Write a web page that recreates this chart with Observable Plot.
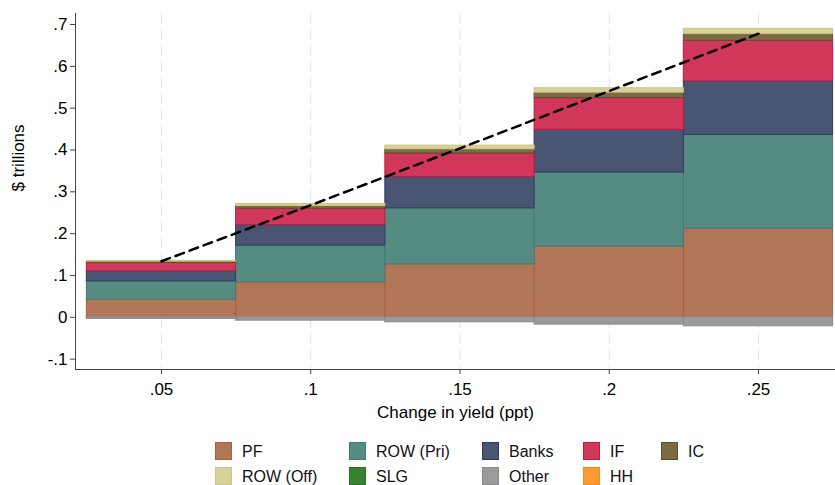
<!DOCTYPE html>
<html>
<head>
<meta charset="utf-8">
<script src="https://cdn.jsdelivr.net/npm/d3@7"></script>
<script src="https://cdn.jsdelivr.net/npm/@observablehq/plot@0.6"></script>
<style>
  html, body { margin: 0; padding: 0; background: #fff; }
  body { position: relative; width: 835px; height: 485px; overflow: hidden;
         font-family: "Liberation Sans", Arial, Helvetica, sans-serif; }
  #chart { position: absolute; left: 0; top: 0; }
  #legend { position: absolute; left: 215px; top: 442px; display: grid;
            grid-template-columns: 134px 133px 101px 78px 80px; grid-auto-rows: 25px; }
  .item { display: flex; align-items: flex-start; font-size: 16px; color: #111; }
  .sw { width: 15px; height: 16px; border: 1.5px solid; margin-right: 10px; box-sizing: content-box; }
  .lab { line-height: 19px; }
</style>
</head>
<body>
<div id="chart"></div>
<div id="legend"></div>
<script>
// ---- data ----
const yieldChange = [0.05, 0.1, 0.15, 0.2, 0.25];
const PF       = [0.042, 0.0835, 0.1265, 0.169, 0.212];
const ROWPri   = [0.044, 0.088, 0.134, 0.177, 0.224];
const Banks    = [0.024, 0.049, 0.075, 0.102, 0.128];
const IF       = [0.020, 0.039, 0.056, 0.076, 0.097];
const IC       = [0.003, 0.0064, 0.010, 0.013, 0.016];
const ROWOff   = [0.002, 0.005, 0.009, 0.0105, 0.0127];
const SLG      = [0, 0, 0, 0, 0];
const Other    = [-0.004, -0.008, -0.012, -0.0175, -0.0215];
const HH       = [0, 0, 0, 0, 0];
const trendX   = [0.05, 0.1, 0.15, 0.2, 0.25];
const trendY   = [0.134, 0.268, 0.404, 0.541, 0.678];
const xTicks   = [0.05, 0.1, 0.15, 0.2, 0.25];
const yTicks   = [-0.1, 0, 0.1, 0.2, 0.3, 0.4, 0.5, 0.6, 0.7];
const barHalfWidth = 0.025;

const series = [
  {name: "PF",        values: PF,     fill: "#b07657", stroke: "#a9603a"},
  {name: "ROW (Pri)", values: ROWPri, fill: "#568b82", stroke: "#3f7b72"},
  {name: "Banks",     values: Banks,  fill: "#4a5574", stroke: "#2d3a60"},
  {name: "IF",        values: IF,     fill: "#d0375b", stroke: "#c9173f"},
  {name: "IC",        values: IC,     fill: "#7b6a42", stroke: "#5f4f28"},
  {name: "ROW (Off)", values: ROWOff, fill: "#d7d29c", stroke: "#cbc582"},
  {name: "SLG",       values: SLG,    fill: "#368232", stroke: "#26721f"},
  {name: "Other",     values: Other,  fill: "#9b9b9b", stroke: "#8a8a8a"},
  {name: "HH",        values: HH,     fill: "#ff9a33", stroke: "#f58a1a"}
];
const fillOf = Object.fromEntries(series.map(s => [s.name, s.fill]));
const strokeOf = Object.fromEntries(series.map(s => [s.name, s.stroke]));

const rows = [];
series.forEach(s => s.values.forEach((v, i) => {
  if (v !== 0) rows.push({sector: s.name, x1: yieldChange[i] - barHalfWidth, x2: yieldChange[i] + barHalfWidth, value: v});
}));
const trend = trendX.map((x, i) => ({x, y: trendY[i]}));

const fmt = d => d === 0 ? "0" : String(d).replace(/^(-?)0\./, "$1.");
const xDomain = [0.0212, 0.2758];
const yDomain = [-0.1248, 0.7263];

const chart = Plot.plot({
  width: 835, height: 437,
  marginLeft: 75, marginRight: 0, marginTop: 13, marginBottom: 68,
  style: {fontFamily: "Liberation Sans, Arial, Helvetica, sans-serif", fontSize: "17px", color: "#000", background: "#fff"},
  x: {domain: xDomain, axis: null},
  y: {domain: yDomain, axis: null},
  marks: [
    Plot.ruleX(xTicks, {stroke: "#e4e4e4", strokeWidth: 1, strokeDasharray: "11,5"}),
    Plot.rectY(rows, {x1: "x1", x2: "x2", y: "value", z: "sector",
      fill: d => fillOf[d.sector], stroke: d => strokeOf[d.sector], strokeWidth: 1}),
    Plot.line(trend, {x: "x", y: "y", stroke: "#000", strokeWidth: 2.5, strokeDasharray: "9,6"}),
    Plot.ruleX([xDomain[0]], {stroke: "#444", strokeWidth: 1}),
    Plot.ruleY([yDomain[0]], {stroke: "#444", strokeWidth: 1}),
    Plot.axisX(xTicks, {tickSize: 5, tickPadding: 8, tickFormat: fmt, label: null, stroke: "#444", fill: "#000", fontSize: 17}),
    Plot.axisY(yTicks, {tickSize: 5, tickPadding: 3, tickFormat: fmt, label: null, stroke: "#444", fill: "#000", fontSize: 17}),
    Plot.text(["Change in yield (ppt)"], {frameAnchor: "bottom", dy: 48, fill: "#000", fontSize: 17}),
    Plot.text(["$ trillions"], {frameAnchor: "left", dx: -57, rotate: -90, fill: "#000", fontSize: 17})
  ]
});
document.getElementById("chart").appendChild(chart);

const legendOrder = ["PF", "ROW (Pri)", "Banks", "IF", "IC", "ROW (Off)", "SLG", "Other", "HH"];
const legend = document.getElementById("legend");
legendOrder.forEach(name => {
  const it = document.createElement("div");
  it.className = "item";
  const sw = document.createElement("span");
  sw.className = "sw";
  sw.style.background = fillOf[name];
  sw.style.borderColor = strokeOf[name];
  const lab = document.createElement("span");
  lab.className = "lab";
  lab.textContent = name;
  it.appendChild(sw); it.appendChild(lab);
  legend.appendChild(it);
});
</script>
</body>
</html>
